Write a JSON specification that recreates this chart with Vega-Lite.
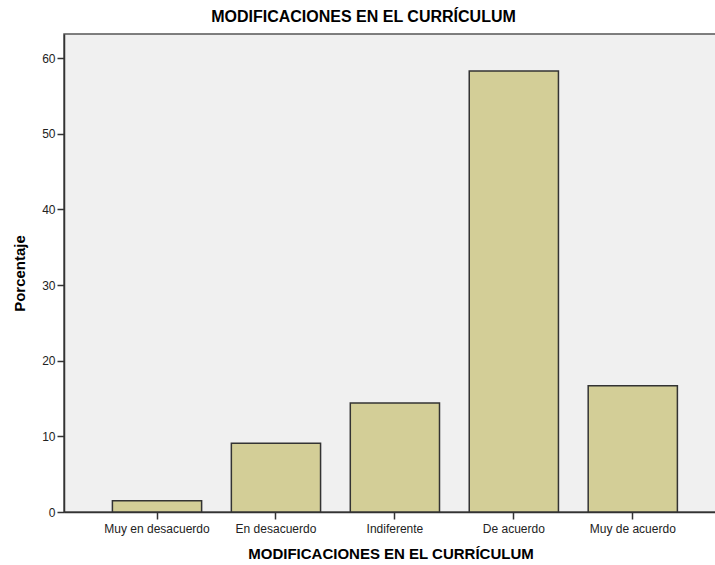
{
  "$schema": "https://vega.github.io/schema/vega-lite/v6.json",
  "autosize": "none",
  "padding": {"left": 64, "top": 34, "right": 0, "bottom": 53},
  "width": 653,
  "height": 478,
  "background": "white",
  "title": {
    "text": "MODIFICACIONES EN EL CURRÍCULUM",
    "font": "Liberation Sans",
    "fontSize": 16,
    "fontWeight": "bold",
    "color": "#000000",
    "anchor": "middle",
    "dx": -27,
    "offset": 9
  },
  "data": {
    "values": [
      {"categoria": "Muy en desacuerdo", "porcentaje": 1.5},
      {"categoria": "En desacuerdo", "porcentaje": 9.1},
      {"categoria": "Indiferente", "porcentaje": 14.4},
      {"categoria": "De acuerdo", "porcentaje": 58.3},
      {"categoria": "Muy de acuerdo", "porcentaje": 16.7}
    ]
  },
  "config": {
    "view": {"fill": "#f0f0f0", "stroke": "#555555", "strokeWidth": 1.5},
    "axis": {
      "labelFont": "Liberation Sans",
      "titleFont": "Liberation Sans",
      "labelColor": "#222222",
      "titleColor": "#000000",
      "domainColor": "#333333",
      "domainWidth": 1.5,
      "tickColor": "#333333",
      "tickWidth": 1.5,
      "tickSize": 7,
      "grid": false
    }
  },
  "mark": {"type": "bar", "fill": "#d3ce97", "stroke": "#333333", "strokeWidth": 1.5},
  "encoding": {
    "x": {
      "field": "categoria",
      "type": "nominal",
      "sort": ["Muy en desacuerdo", "En desacuerdo", "Indiferente", "De acuerdo", "Muy de acuerdo"],
      "scale": {"paddingInner": 0.25, "paddingOuter": 0.37, "align": 0.55},
      "axis": {
        "title": "MODIFICACIONES EN EL CURRÍCULUM",
        "titleFontSize": 15,
        "titleFontWeight": "bold",
        "titlePadding": 12,
        "labelAngle": 0,
        "labelFontSize": 12,
        "labelPadding": 4
      }
    },
    "y": {
      "field": "porcentaje",
      "type": "quantitative",
      "scale": {"domain": [0, 63.2], "nice": false},
      "axis": {
        "title": "Porcentaje",
        "titleFontSize": 15,
        "titleFontWeight": "bold",
        "titlePadding": 14,
        "values": [0, 10, 20, 30, 40, 50, 60],
        "labelFontSize": 12,
        "labelPadding": 2
      }
    }
  }
}
